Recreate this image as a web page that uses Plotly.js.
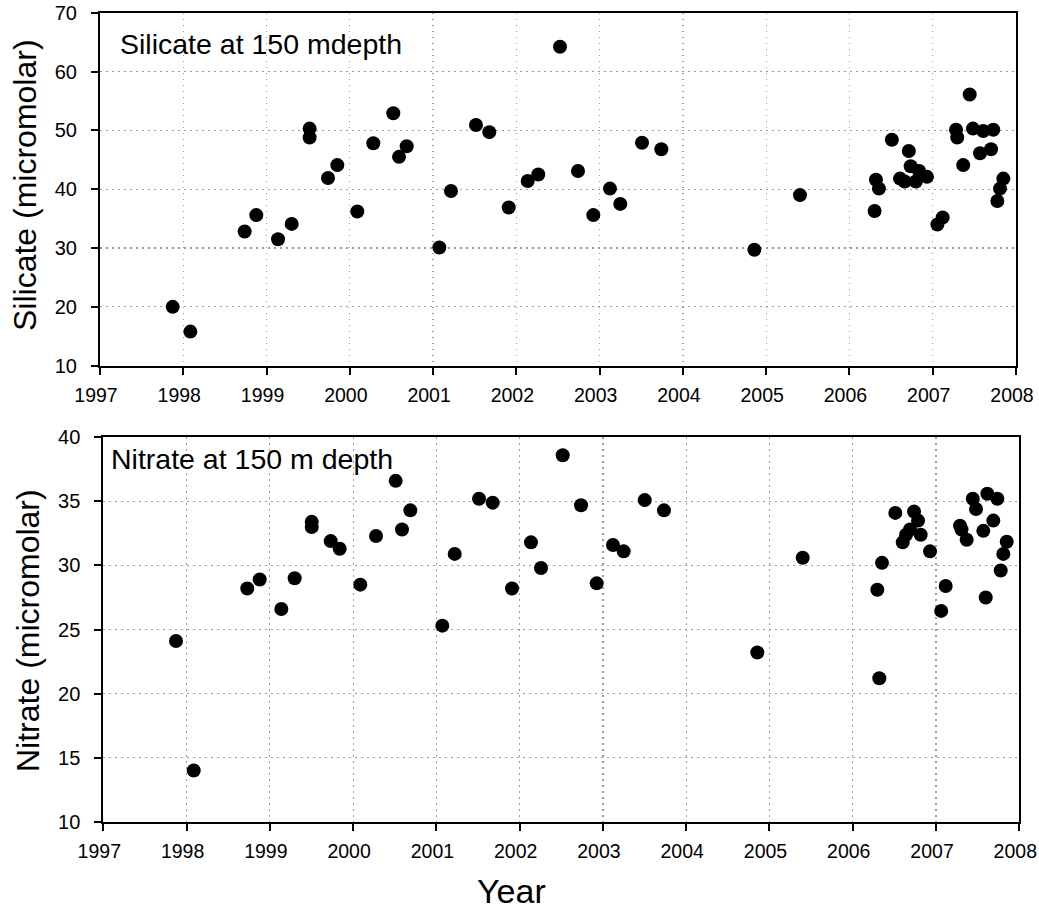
<!DOCTYPE html>
<html>
<head>
<meta charset="utf-8">
<script src="https://cdn.plot.ly/plotly-3.0.1.min.js"></script>
<style>html,body{margin:0;padding:0;background:#fff;}#chart{width:1039px;height:910px;}</style>
</head>
<body>
<div id="chart"></div>
<script>
// Silicate at 150 m depth
const silicateYear = [
  1997.873, 1998.085, 1998.737, 1998.877, 1999.138, 1999.302, 1999.517, 1999.517, 1999.738, 1999.850,
  2000.090, 2000.282, 2000.522, 2000.591, 2000.683, 2001.075, 2001.215, 2001.515, 2001.675, 2001.908,
  2002.136, 2002.263, 2002.524, 2002.740, 2002.924, 2003.124, 2003.248, 2003.509, 2003.741, 2004.858,
  2005.406,
  2006.302, 2006.318, 2006.354, 2006.509, 2006.713, 2006.607, 2006.663, 2006.735, 2006.797, 2006.837, 2006.931,
  2007.444, 2007.280, 2007.294, 2007.366, 2007.483, 2007.607, 2007.727, 2007.568, 2007.700, 2007.848,
  2007.808, 2007.776, 2007.056, 2007.119
];
const silicateValue = [
  20.0, 15.8, 32.8, 35.6, 31.5, 34.1, 50.3, 48.8, 41.9, 44.1,
  36.2, 47.8, 52.9, 45.5, 47.3, 30.1, 39.7, 50.9, 49.7, 36.9,
  41.4, 42.5, 64.2, 43.1, 35.6, 40.1, 37.5, 47.9, 46.8, 29.7,
  39.0,
  36.3, 41.6, 40.1, 48.4, 46.5, 41.8, 41.3, 43.9, 41.3, 43.1, 42.1,
  56.1, 50.1, 48.8, 44.1, 50.3, 49.9, 50.1, 46.1, 46.8, 41.8,
  40.1, 38.0, 34.0, 35.2
];

// Nitrate at 150 m depth
const nitrateYear = [
  1997.873, 1998.086, 1998.729, 1998.878, 1999.138, 1999.298, 1999.503, 1999.503, 1999.731, 1999.839,
  2000.086, 2000.275, 2000.511, 2000.587, 2000.687, 2001.071, 2001.220, 2001.512, 2001.676, 2001.908,
  2002.136, 2002.256, 2002.517, 2002.737, 2002.925, 2003.121, 2003.249, 2003.502, 2003.733, 2004.854,
  2005.399,
  2006.511, 2006.736, 2006.784, 2006.688, 2006.640, 2006.600, 2006.816, 2006.928, 2006.351, 2006.295, 2006.319,
  2007.116, 2007.062, 2007.441, 2007.480, 2007.616, 2007.736, 2007.288, 2007.306, 2007.368, 2007.688,
  2007.568, 2007.849, 2007.808, 2007.777, 2007.597
];
const nitrateValue = [
  24.1, 14.0, 28.2, 28.9, 26.6, 29.0, 33.4, 33.0, 31.9, 31.3,
  28.5, 32.3, 36.6, 32.8, 34.3, 25.3, 30.9, 35.2, 34.9, 28.2,
  31.8, 29.8, 38.6, 34.7, 28.6, 31.6, 31.1, 35.1, 34.3, 23.2,
  30.6,
  34.1, 34.2, 33.5, 32.8, 32.4, 31.8, 32.4, 31.1, 30.2, 28.1, 21.2,
  28.4, 26.45, 35.2, 34.4, 35.6, 35.2, 33.1, 32.8, 32.0, 33.5,
  32.7, 31.85, 30.9, 29.6, 27.5
];

const xTickVals = [1997, 1998, 1999, 2000, 2001, 2002, 2003, 2004, 2005, 2006, 2007, 2008];
const xTickText = ['1997', '1998', '1999', '2000', '2001', '2002', '2003', '2004', '2005', '2006', '2007', '2008'];
const siTickVals = [10, 20, 30, 40, 50, 60, 70];
const niTickVals = [10, 15, 20, 25, 30, 35, 40];

const W = 1039, H = 910;
const px = v => v / W;
const py = v => 1 - v / H;

const FONT = '"Liberation Sans", Arial, Helvetica, sans-serif';

const marker = {size: 14, color: '#000000', line: {width: 0}};

const traces = [
  {x: silicateYear, y: silicateValue, type: 'scatter', mode: 'markers', marker: marker, xaxis: 'x', yaxis: 'y', hoverinfo: 'x+y'},
  {x: nitrateYear, y: nitrateValue, type: 'scatter', mode: 'markers', marker: marker, xaxis: 'x2', yaxis: 'y2', hoverinfo: 'x+y'}
];

function xAxis(domain, anchor) {
  return {
    domain: domain, anchor: anchor,
    range: [1997, 2008], tickmode: 'array', tickvals: xTickVals, ticktext: xTickText,
    showline: true, linecolor: '#000', linewidth: 2, mirror: true,
    ticks: 'outside', ticklen: 7, tickwidth: 2, tickcolor: '#000',
    showgrid: true, gridcolor: '#9a9a9a', gridwidth: 1.2, griddash: '1.5px,4.5px',
    zeroline: false, tickfont: {family: FONT, size: 19.5, color: '#000000'},
    ticklabelstandoff: 4, ticklabelshift: -4, ticklabeloverflow: 'allow'
  };
}
function yAxis(domain, anchor, range, vals) {
  return {
    domain: domain, anchor: anchor, range: range,
    tickmode: 'array', tickvals: vals, ticktext: vals.map(String),
    showline: true, linecolor: '#000', linewidth: 2, mirror: true,
    ticks: 'outside', ticklen: 7, tickwidth: 2, tickcolor: '#000',
    showgrid: true, gridcolor: '#9a9a9a', gridwidth: 1.2, griddash: '1.5px,4.5px',
    zeroline: false, tickfont: {family: FONT, size: 20, color: '#000000'},
    ticklabelstandoff: 10, ticklabeloverflow: 'allow'
  };
}

const layout = {
  width: W, height: H,
  margin: {l: 0, r: 0, t: 0, b: 0},
  paper_bgcolor: '#fff', plot_bgcolor: '#fff',
  showlegend: false,
  font: {family: FONT, size: 20, color: '#000'},
  xaxis: xAxis([px(100), px(1016)], 'y'),
  yaxis: yAxis([py(365.7), py(12.7)], 'x', [10, 70], siTickVals),
  xaxis2: xAxis([px(103.3), px(1019.3)], 'y2'),
  yaxis2: yAxis([py(821.7), py(437.3)], 'x2', [10, 40], niTickVals),
  annotations: [
    {xref: 'paper', yref: 'paper', x: px(118), y: py(44), xanchor: 'left', yanchor: 'middle', showarrow: false,
     text: 'Silicate at 150 mdepth', font: {family: FONT, size: 28.5, color: '#000'}},
    {xref: 'paper', yref: 'paper', x: px(109), y: py(459), xanchor: 'left', yanchor: 'middle', showarrow: false,
     text: 'Nitrate at 150 m depth', font: {family: FONT, size: 28.5, color: '#000'}},
    {xref: 'paper', yref: 'paper', x: px(25), y: py(185), xanchor: 'center', yanchor: 'middle', showarrow: false, textangle: -90,
     text: 'Silicate (micromolar)', font: {family: FONT, size: 32, color: '#000'}},
    {xref: 'paper', yref: 'paper', x: px(28), y: py(631), xanchor: 'center', yanchor: 'middle', showarrow: false, textangle: -90,
     text: 'Nitrate (micromolar)', font: {family: FONT, size: 32, color: '#000'}},
    {xref: 'paper', yref: 'paper', x: px(511), y: py(891), xanchor: 'center', yanchor: 'middle', showarrow: false,
     text: 'Year', font: {family: FONT, size: 34, color: '#000'}}
  ]
};

Plotly.newPlot('chart', traces, layout, {displayModeBar: false, staticPlot: true});
</script>
</body>
</html>
